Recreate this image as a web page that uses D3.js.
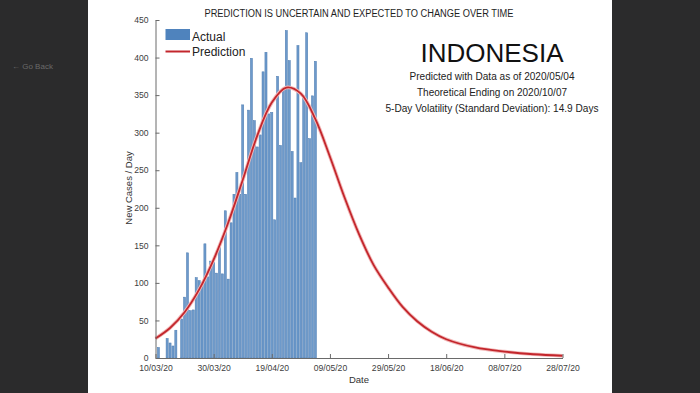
<!DOCTYPE html>
<html><head><meta charset="utf-8">
<script src="https://cdn.jsdelivr.net/npm/d3@7"></script>
<style>
html,body{margin:0;padding:0;background:#2b2b2c;}
svg{display:block;}
text{font-family:"Liberation Sans",Arial,Helvetica,sans-serif;}
</style></head>
<body>
<svg id="chart" width="700" height="393"></svg>
<script>
// ---- data ----
const title = "PREDICTION IS UNCERTAIN AND EXPECTED TO CHANGE OVER TIME";
const country = "INDONESIA";
const infoLines = [
  "Predicted with Data as of 2020/05/04",
  "Theoretical Ending on 2020/10/07",
  "5-Day Volatility (Standard Deviation): 14.9 Days"
];
const xTickLabels = ["2020-03-10","2020-03-30","2020-04-19","2020-05-09","2020-05-29","2020-06-18","2020-07-08","2020-07-28"];
const yTickValues = [0,50,100,150,200,250,300,350,400,450];

const actualDates = ["2020-03-11","2020-03-14","2020-03-15","2020-03-16","2020-03-17","2020-03-19","2020-03-20","2020-03-21","2020-03-22","2020-03-23",
 "2020-03-24","2020-03-25","2020-03-26","2020-03-27","2020-03-28","2020-03-29","2020-03-30","2020-03-31","2020-04-01","2020-04-02",
 "2020-04-03","2020-04-04","2020-04-05","2020-04-06","2020-04-07","2020-04-08","2020-04-09","2020-04-10","2020-04-11","2020-04-12",
 "2020-04-13","2020-04-14","2020-04-15","2020-04-16","2020-04-17","2020-04-18","2020-04-19","2020-04-20","2020-04-21","2020-04-22",
 "2020-04-23","2020-04-24","2020-04-25","2020-04-26","2020-04-27","2020-04-28","2020-04-29","2020-04-30","2020-05-01","2020-05-02",
 "2020-05-03","2020-05-04"];
const actualValues = [14,26,20,16,37,52,81,140,63,64,
 107,103,101,152,108,129,127,113,147,112,
 196,105,180,218,247,218,337,218,330,399,
 316,281,297,381,407,325,327,184,375,283,
 357,436,396,275,213,416,260,347,433,292,
 349,395];

const predDates = ["2020-03-10","2020-03-15","2020-03-20","2020-03-25","2020-03-30","2020-04-04","2020-04-09","2020-04-14","2020-04-19","2020-04-24",
 "2020-04-29","2020-05-04","2020-05-09","2020-05-14","2020-05-19","2020-05-24","2020-05-29","2020-06-03","2020-06-08","2020-06-13",
 "2020-06-18","2020-06-28","2020-07-08","2020-07-18","2020-07-28"];
const predValues = [26,40,61,91,131,180,237,296,340,360,
 352,318,268,214,165,124,94,68,49,35,
 25,14,8.5,5,3];

// ---- drawing ----
const svg = d3.select("#chart");
const parse = d3.utcParse("%Y-%m-%d");
const fmt = d3.utcFormat("%d/%m/%y");

// white page panel
svg.append("rect").attr("x",88).attr("y",0).attr("width",524).attr("height",393).attr("fill","#ffffff");
svg.append("text").attr("x",12).attr("y",69).attr("font-size",8).attr("fill","#6a6a6a").text("\u2190 Go Back");

const x = d3.scaleUtc().domain([parse("2020-03-10"), parse("2020-07-28")]).range([155.5, 562.5]);
const y = d3.scaleLinear().domain([0,450]).range([358,20]);

const dayW = x(parse("2020-03-11")) - x(parse("2020-03-10"));
const barW = dayW*0.72;

// bars
svg.append("g").selectAll("rect").data(actualDates.map((d,i)=>({d:parse(d),v:actualValues[i]})))
  .join("rect")
  .attr("x",d=>x(d.d)-barW/2).attr("width",barW)
  .attr("y",d=>y(d.v)).attr("height",d=>y(0)-y(d.v))
  .attr("fill","#6d9acb").attr("stroke","#4c7bb0").attr("stroke-width",0.5);

// prediction curve
const line = d3.line().x(d=>x(d.d)).y(d=>y(d.v)).curve(d3.curveCatmullRom.alpha(0.5));
const predData = predDates.map((d,i)=>({d:parse(d),v:predValues[i]}));
svg.append("path").datum(predData).attr("d",line).attr("fill","none")
  .attr("stroke","#f2b8b8").attr("stroke-width",3.6);
svg.append("path").datum(predData).attr("d",line).attr("fill","none")
  .attr("stroke","#c3262c").attr("stroke-width",1.8);

// axes
const xAxis = d3.axisBottom(x).tickValues(xTickLabels.map(parse)).tickFormat(fmt).tickSizeInner(-4).tickSizeOuter(0).tickPadding(7);
const gx = svg.append("g").attr("transform","translate(0,358)").call(xAxis);
gx.select(".domain").attr("stroke","#6a6a6a");
gx.selectAll(".tick line").attr("stroke","#6a6a6a");
gx.selectAll("text").attr("font-size",8.6).attr("fill","#404040").attr("font-family","Liberation Sans, Arial, sans-serif");

const yAxis = d3.axisLeft(y).tickValues(yTickValues).tickSizeInner(-4).tickSizeOuter(0).tickPadding(7);
const gy = svg.append("g").attr("transform","translate(155.5,0)").call(yAxis);
gy.select(".domain").attr("stroke","#6a6a6a");
gy.selectAll(".tick line").attr("stroke","#6a6a6a");
gy.selectAll("text").attr("font-size",8.6).attr("fill","#404040").attr("font-family","Liberation Sans, Arial, sans-serif");

// titles
svg.append("text").attr("x",359).attr("y",17).attr("text-anchor","middle").attr("font-size",10)
  .attr("fill","#1e1e1e").attr("textLength",309).attr("lengthAdjust","spacingAndGlyphs").text(title);
svg.append("text").attr("x",359).attr("y",383).attr("text-anchor","middle").attr("font-size",9.5).attr("fill","#333").text("Date");
svg.append("text").attr("transform","translate(132,188) rotate(-90)").attr("text-anchor","middle").attr("font-size",9.5).attr("fill","#333").text("New Cases / Day");

// annotation block
svg.append("text").attr("x",492).attr("y",62).attr("text-anchor","middle").attr("font-size",26).attr("fill","#111").text(country);
const infoY = [80,96,112];
const infoW = [165,150,213];
infoLines.forEach((t,i)=>{
  svg.append("text").attr("x",492).attr("y",infoY[i]).attr("text-anchor","middle").attr("font-size",10.2)
    .attr("fill","#222").attr("textLength",infoW[i]).attr("lengthAdjust","spacingAndGlyphs").text(t);
});

// legend
const lg = svg.append("g");
lg.append("rect").attr("x",165.5).attr("y",29).attr("width",24.5).attr("height",11).attr("fill","#4f83bd");
lg.append("text").attr("x",192).attr("y",40.5).attr("font-size",12).attr("fill","#222").text("Actual");
lg.append("line").attr("x1",165.5).attr("x2",190).attr("y1",51.5).attr("y2",51.5).attr("stroke","#c3262c").attr("stroke-width",2);
lg.append("text").attr("x",192).attr("y",55.5).attr("font-size",12).attr("fill","#222").text("Prediction");
</script>
</body></html>
